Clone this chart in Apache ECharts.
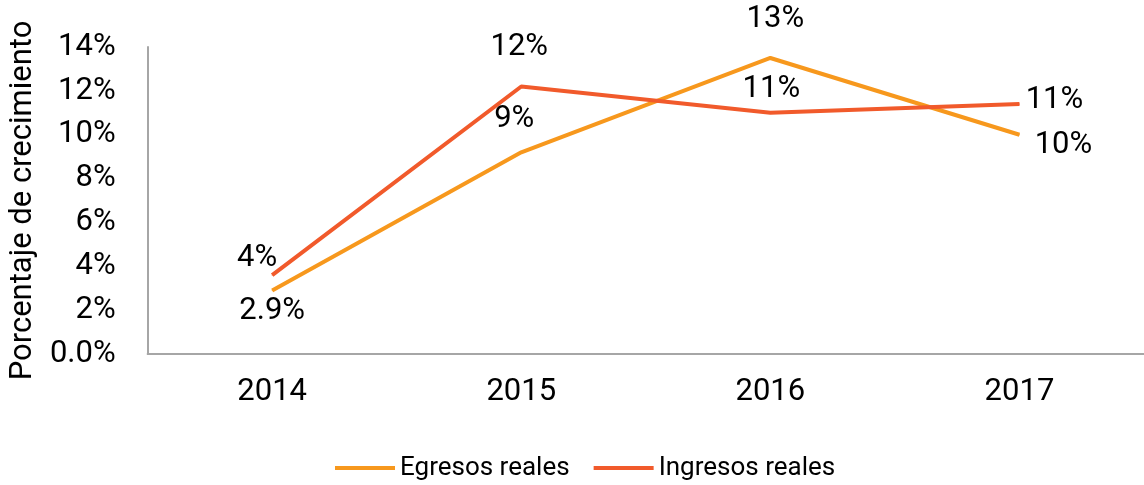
<!DOCTYPE html>
<html>
<head>
<meta charset="utf-8">
<script src="https://cdn.jsdelivr.net/npm/echarts@6/dist/echarts.min.js"></script>
<style>
  html, body { margin: 0; padding: 0; background: #fff; }
  #chart { width: 1144px; height: 485px; }
</style>
</head>
<body>
<div id="chart"></div>
<script>
const years = ["2014", "2015", "2016", "2017"];
const egresos = [2.9, 9.2, 13.5, 10.0];
const ingresos = [3.6, 12.2, 11.0, 11.4];
const egresosLabels = ["2.9%", "9%", "13%", "10%"];
const ingresosLabels = ["4%", "12%", "11%", "11%"];
const yTicks = [0, 2, 4, 6, 8, 10, 12, 14];

const font = "Roboto";
// label offsets from the point (centre of text), like the excel placement
const egresosOffsets = [[0, 21], [-7, -33], [5, -39], [44, 11]];
const ingresosOffsets = [[-15, -17], [-2, -39], [1, -24], [35, -4]];

function withLabels(values, labels, offsets) {
  return values.map((v, i) => ({
    value: v,
    label: {
      show: true,
      position: "inside",
      offset: offsets[i],
      formatter: labels[i],
    },
  }));
}

const chart = echarts.init(document.getElementById("chart"));

chart.setOption({
  animation: false,
  textStyle: { fontFamily: font },
  grid: {
    left: 145,
    right: -14,
    top: 47,
    bottom: 131,
  },
  legend: {
    data: [
      { name: "Egresos reales", icon: "rect" },
      { name: "Ingresos reales", icon: "rect" },
    ],
    left: 330,
    top: 450,
    itemWidth: 60,
    itemHeight: 4,
    itemGap: 24,
    textStyle: { fontSize: 26, color: "#000", fontFamily: font },
  },
  xAxis: {
    type: "category",
    data: years,
    boundaryGap: true,
    axisTick: { show: false },
    axisLine: { lineStyle: { color: "#a6a6a6", width: 2 } },
    axisLabel: { color: "#000", fontSize: 31, margin: 23, fontFamily: font },
    splitLine: { show: false },
  },
  yAxis: {
    type: "value",
    min: yTicks[0],
    max: yTicks[yTicks.length - 1],
    interval: 2,
    name: "Porcentaje de crecimiento",
    nameLocation: "middle",
    nameGap: 108,
    nameTextStyle: { fontSize: 31, color: "#000", fontFamily: font },
    axisLine: { show: true, lineStyle: { color: "#a6a6a6", width: 2 } },
    axisTick: { show: false },
    splitLine: { show: false },
    axisLabel: {
      color: "#000",
      fontSize: 31,
      margin: 32,
      fontFamily: font,
      formatter: (v) => (v === 0 ? "0.0%" : v + "%"),
    },
  },
  series: [
    {
      name: "Egresos reales",
      type: "line",
      data: withLabels(egresos, egresosLabels, egresosOffsets),
      symbol: "circle",
      symbolSize: 1,
      lineStyle: { color: "#f7981d", width: 4 },
      itemStyle: { color: "#f7981d" },
      label: { color: "#000", fontSize: 31, fontFamily: font },
      z: 2,
    },
    {
      name: "Ingresos reales",
      type: "line",
      data: withLabels(ingresos, ingresosLabels, ingresosOffsets),
      symbol: "circle",
      symbolSize: 1,
      lineStyle: { color: "#f15a2b", width: 4 },
      itemStyle: { color: "#f15a2b" },
      label: { color: "#000", fontSize: 31, fontFamily: font },
      z: 3,
    },
  ],
});
</script>
</body>
</html>
